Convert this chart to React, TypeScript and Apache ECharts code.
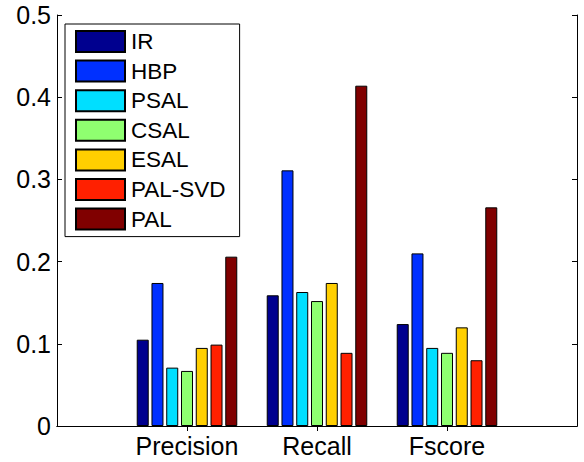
import React, { useEffect, useRef } from "react";
import * as echarts from "echarts";

const categories = ["Precision", "Recall", "Fscore"];
const methods = ["IR", "HBP", "PSAL", "CSAL", "ESAL", "PAL-SVD", "PAL"];
const colors = ["#00008F", "#0030FF", "#00DFFF", "#8FFF70", "#FFCF00", "#FF2000", "#800000"];
const irValues = [0.105, 0.159, 0.124];
const hbpValues = [0.174, 0.311, 0.21];
const psalValues = [0.071, 0.163, 0.095];
const csalValues = [0.067, 0.152, 0.089];
const esalValues = [0.095, 0.174, 0.12];
const palSvdValues = [0.099, 0.089, 0.08];
const palValues = [0.206, 0.414, 0.266];
const yTicks = [0, 0.1, 0.2, 0.3, 0.4, 0.5];

const seriesValues = [irValues, hbpValues, psalValues, csalValues, esalValues, palSvdValues, palValues];

const FONT = "'Liberation Sans', Arial, Helvetica, sans-serif";

export default function App() {
  const ref = useRef<HTMLDivElement>(null);
  useEffect(() => {
    if (!ref.current) return;
    const chart = echarts.init(ref.current, undefined, { renderer: "svg" });
    const xData = ["", ...categories, ""];
    const tickFn = (i: number) => i > 0 && i < xData.length - 1;
    const axisLine = { show: true, lineStyle: { color: "#000", width: 1 } };
    const yMin = yTicks[0];
    const yMax = yTicks[yTicks.length - 1];
    const yInt = yTicks[1] - yTicks[0];
    chart.setOption({
      animation: false,
      textStyle: { fontFamily: FONT },
      grid: { left: 57, top: 15, right: 7, bottom: 36, containLabel: false },
      legend: {
        data: methods,
        orient: "vertical",
        left: 65,
        top: 24,
        icon: "rect",
        itemWidth: 49,
        itemHeight: 21,
        itemGap: 6.6,
        padding: [6, 14, 6, 10],
        borderColor: "#000",
        borderWidth: 1,
        backgroundColor: "#fff",
        textStyle: { fontFamily: FONT, fontSize: 22.5, lineHeight: 21, color: "#000", padding: [0, 0, 0, 1] },
      },
      xAxis: [
        {
          type: "category",
          data: xData,
          boundaryGap: false,
          position: "bottom",
          axisLine,
          axisTick: { show: true, inside: true, length: 5, interval: tickFn, lineStyle: { color: "#000" } },
          axisLabel: { interval: 0, color: "#000", fontSize: 25, fontFamily: FONT, margin: 7 },
          splitLine: { show: false },
        },
        {
          type: "category",
          data: xData,
          boundaryGap: false,
          position: "top",
          axisLine,
          axisTick: { show: true, inside: true, length: 5, interval: tickFn, lineStyle: { color: "#000" } },
          axisLabel: { show: false },
          splitLine: { show: false },
        },
      ],
      yAxis: [
        {
          type: "value",
          min: yMin,
          max: yMax,
          interval: yInt,
          position: "left",
          axisLine,
          axisTick: { show: true, inside: true, length: 5, lineStyle: { color: "#000" } },
          axisLabel: {
            color: "#000",
            fontSize: 25,
            lineHeight: 25,
            fontFamily: FONT,
            margin: 6,
            padding: [3, 0, 0, 0],
            formatter: (v: number) => (v === 0 ? "0" : v.toFixed(1)),
          },
          splitLine: { show: false },
        },
        {
          type: "value",
          min: yMin,
          max: yMax,
          interval: yInt,
          position: "right",
          axisLine,
          axisTick: { show: true, inside: true, length: 5, lineStyle: { color: "#000" } },
          axisLabel: { show: false },
          splitLine: { show: false },
        },
      ],
      series: methods.map((name, k) => ({
        name,
        type: "bar",
        xAxisIndex: 0,
        yAxisIndex: 0,
        barWidth: 12,
        barGap: "23%",
        data: [null, ...seriesValues[k], null],
        itemStyle: { color: colors[k], borderColor: "#000", borderWidth: 1 },
      })),
    });
    return () => chart.dispose();
  }, []);
  return <div ref={ref} style={{ position: "absolute", left: 0, top: 0, width: 584, height: 462 }} />;
}
